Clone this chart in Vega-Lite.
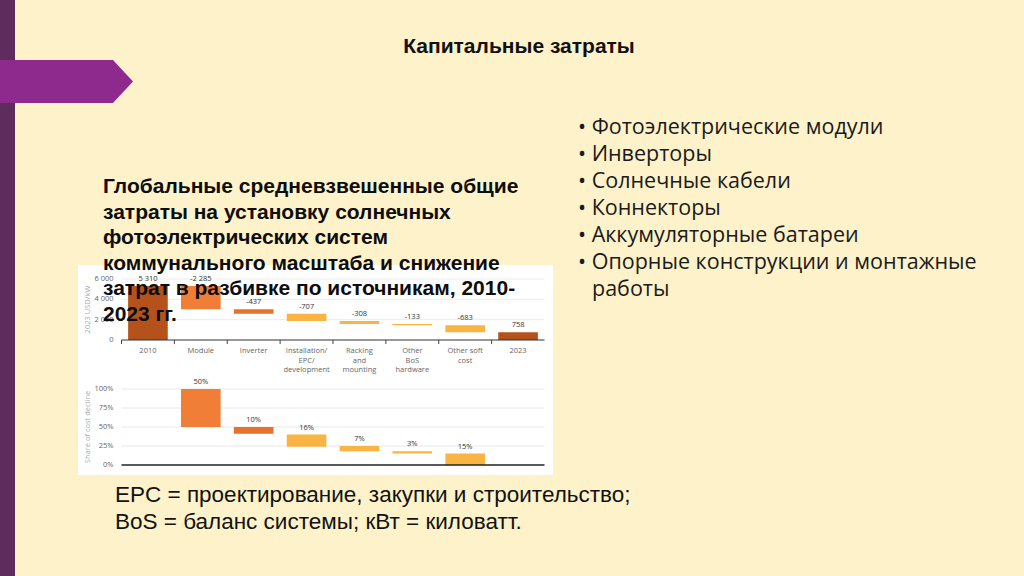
{
  "$schema": "https://vega.github.io/schema/vega-lite/v6.json",
  "width": 1024,
  "height": 576,
  "autosize": "none",
  "padding": 0,
  "background": "#FDF2CA",
  "config": {
    "view": {"stroke": null}
  },
  "datasets": {
    "cost": [
      {"cat": "2010", "start": 5310, "end": 0, "label": "5 310", "kind": "Total"},
      {"cat": "Module", "start": 5310, "end": 3025, "label": "-2 285", "kind": "Module"},
      {"cat": "Inverter", "start": 3025, "end": 2588, "label": "-437", "kind": "Inverter"},
      {"cat": "Installation/|EPC/|development", "start": 2588, "end": 1881, "label": "-707", "kind": "Other"},
      {"cat": "Racking|and|mounting", "start": 1881, "end": 1573, "label": "-308", "kind": "Other"},
      {"cat": "Other|BoS|hardware", "start": 1573, "end": 1440, "label": "-133", "kind": "Other"},
      {"cat": "Other soft|cost", "start": 1440, "end": 757, "label": "-683", "kind": "Other"},
      {"cat": "2023", "start": 758, "end": 0, "label": "758", "kind": "Total"}
    ],
    "share": [
      {"cat": "Module", "start": 1.0, "end": 0.5, "label": "50%", "kind": "Module"},
      {"cat": "Inverter", "start": 0.5, "end": 0.41, "label": "10%", "kind": "Inverter"},
      {"cat": "Installation/|EPC/|development", "start": 0.4, "end": 0.24, "label": "16%", "kind": "Other"},
      {"cat": "Racking|and|mounting", "start": 0.25, "end": 0.18, "label": "7%", "kind": "Other"},
      {"cat": "Other|BoS|hardware", "start": 0.18, "end": 0.15, "label": "3%", "kind": "Other"},
      {"cat": "Other soft|cost", "start": 0.15, "end": 0, "label": "15%", "kind": "Other"}
    ],
    "usdTicks": [
      {"usd": 0, "text": "0"},
      {"usd": 2000, "text": "2 000"},
      {"usd": 4000, "text": "4 000"},
      {"usd": 6000, "text": "6 000"}
    ],
    "shareTicks": [
      {"share": 0, "text": "0%"},
      {"share": 0.25, "text": "25%"},
      {"share": 0.5, "text": "50%"},
      {"share": 0.75, "text": "75%"},
      {"share": 1, "text": "100%"}
    ]
  },
  "resolve": {
    "scale": {"x": "independent", "y": "independent", "color": "independent"},
    "axis": {"x": "independent", "y": "independent"}
  },
  "layer": [
    {
      "data": {"values": [{"part": "sidebar"}]},
      "mark": {"type": "rect", "color": "#5F2C5E"},
      "encoding": {
        "x": {"field": "part", "type": "nominal", "axis": null, "scale": {"type": "band", "range": [0, 15], "paddingInner": 0, "paddingOuter": 0}},
        "y": {"field": "part", "type": "nominal", "axis": null, "scale": {"type": "band", "range": [0, 576], "paddingInner": 0, "paddingOuter": 0}}
      }
    },
    {
      "data": {"values": [{"part": "arrow"}]},
      "mark": {"type": "point", "shape": "M-1,-0.3233L0.699,-0.3233L1,0L0.699,0.3233L-1,0.3233Z", "size": 17689, "filled": true, "color": "#8E2A8E", "opacity": 1, "strokeWidth": 0},
      "encoding": {
        "x": {"field": "part", "type": "nominal", "axis": null, "scale": {"type": "band", "range": [0, 133], "paddingInner": 0, "paddingOuter": 0}},
        "y": {"field": "part", "type": "nominal", "axis": null, "scale": {"type": "band", "range": [60, 103], "paddingInner": 0, "paddingOuter": 0}}
      }
    },
    {
      "data": {"values": [{"part": "title", "text": "Капитальные затраты"}]},
      "mark": {"type": "text", "font": "Liberation Sans", "fontSize": 21, "fontWeight": "bold", "color": "#111111", "align": "center", "baseline": "middle"},
      "encoding": {
        "text": {"field": "text"},
        "x": {"field": "part", "type": "nominal", "axis": null, "scale": {"type": "point", "range": [519, 519]}},
        "y": {"field": "part", "type": "nominal", "axis": null, "scale": {"type": "point", "range": [47, 47]}}
      }
    },
    {
      "data": {"values": [
        {"line": 0, "col": "bullet", "text": "• Фотоэлектрические модули"},
        {"line": 1, "col": "bullet", "text": "• Инверторы"},
        {"line": 2, "col": "bullet", "text": "• Солнечные кабели"},
        {"line": 3, "col": "bullet", "text": "• Коннекторы"},
        {"line": 4, "col": "bullet", "text": "• Аккумуляторные батареи"},
        {"line": 5, "col": "bullet", "text": "• Опорные конструкции и монтажные"},
        {"line": 6, "col": "cont", "text": "работы"}
      ]},
      "mark": {"type": "text", "font": "Open Sans", "fontSize": 21.5, "color": "#1A1A1A", "align": "left", "baseline": "middle"},
      "encoding": {
        "text": {"field": "text"},
        "x": {"field": "col", "type": "nominal", "axis": null, "scale": {"type": "point", "domain": ["bullet", "cont"], "range": [578, 592], "padding": 0}},
        "y": {"field": "line", "type": "quantitative", "axis": null, "scale": {"domain": [0, 6], "range": [128, 290]}}
      }
    },
    {
      "data": {"values": [{"part": "chart panel"}]},
      "mark": {"type": "rect", "color": "#FFFFFF"},
      "encoding": {
        "x": {"field": "part", "type": "nominal", "axis": null, "scale": {"type": "band", "range": [78, 553], "paddingInner": 0, "paddingOuter": 0}},
        "y": {"field": "part", "type": "nominal", "axis": null, "scale": {"type": "band", "range": [265, 475], "paddingInner": 0, "paddingOuter": 0}}
      }
    },
    {
      "layer": [
        {
          "data": {"values": [{"usd": 2000}, {"usd": 4000}, {"usd": 6000}]},
          "mark": {"type": "rule", "color": "#ECECEC", "strokeWidth": 1},
          "encoding": {
            "y": {"field": "usd", "type": "quantitative", "axis": null, "scale": {"domain": [0, 6000], "range": [340, 279], "nice": false, "zero": false}},
            "x": {"datum": 0, "type": "quantitative", "axis": null, "scale": {"domain": [0, 1], "range": [121.5, 544.5], "nice": false}},
            "x2": {"datum": 1}
          }
        },
        {
          "data": {"name": "usdTicks"},
          "mark": {"type": "text", "font": "Open Sans", "fontSize": 7.5, "color": "#666666", "align": "right", "baseline": "middle", "dx": -8},
          "encoding": {
            "text": {"field": "text"},
            "y": {"field": "usd", "type": "quantitative", "axis": null, "scale": {"domain": [0, 6000], "range": [340, 279], "nice": false, "zero": false}},
            "x": {"datum": 0, "type": "quantitative", "axis": null, "scale": {"domain": [0, 1], "range": [121.5, 544.5], "nice": false}}
          }
        },
        {
          "data": {"values": [{"usd": 3000, "text": "2023 USD/kW"}]},
          "mark": {"type": "text", "font": "Open Sans", "fontSize": 7.5, "color": "#AAAAAA", "align": "center", "baseline": "middle", "angle": 270, "dy": -34},
          "encoding": {
            "text": {"field": "text"},
            "y": {"field": "usd", "type": "quantitative", "axis": null, "scale": {"domain": [0, 6000], "range": [340, 279], "nice": false, "zero": false}},
            "x": {"datum": 0, "type": "quantitative", "axis": null, "scale": {"domain": [0, 1], "range": [121.5, 544.5], "nice": false}}
          }
        }
      ]
    },
    {
      "layer": [
        {
          "data": {"values": [{"share": 0.25}, {"share": 0.5}, {"share": 0.75}, {"share": 1}]},
          "mark": {"type": "rule", "color": "#E8E8E8", "strokeWidth": 1},
          "encoding": {
            "y": {"field": "share", "type": "quantitative", "axis": null, "scale": {"domain": [0, 1], "range": [465, 389], "nice": false, "zero": false}},
            "x": {"datum": 0, "type": "quantitative", "axis": null, "scale": {"domain": [0, 1], "range": [121.5, 544.5], "nice": false}},
            "x2": {"datum": 1}
          }
        },
        {
          "data": {"name": "shareTicks"},
          "mark": {"type": "text", "font": "Open Sans", "fontSize": 7.5, "color": "#666666", "align": "right", "baseline": "middle", "dx": -8},
          "encoding": {
            "text": {"field": "text"},
            "y": {"field": "share", "type": "quantitative", "axis": null, "scale": {"domain": [0, 1], "range": [465, 389], "nice": false, "zero": false}},
            "x": {"datum": 0, "type": "quantitative", "axis": null, "scale": {"domain": [0, 1], "range": [121.5, 544.5], "nice": false}}
          }
        },
        {
          "data": {"values": [{"share": 0.5, "text": "Share of cost decline"}]},
          "mark": {"type": "text", "font": "Open Sans", "fontSize": 7.5, "color": "#AAAAAA", "align": "center", "baseline": "middle", "angle": 270, "dy": -34},
          "encoding": {
            "text": {"field": "text"},
            "y": {"field": "share", "type": "quantitative", "axis": null, "scale": {"domain": [0, 1], "range": [465, 389], "nice": false, "zero": false}},
            "x": {"datum": 0, "type": "quantitative", "axis": null, "scale": {"domain": [0, 1], "range": [121.5, 544.5], "nice": false}}
          }
        }
      ]
    },
    {
      "data": {"name": "cost"},
      "encoding": {
        "x": {
          "field": "cat", "type": "nominal", "axis": null,
          "scale": {"type": "band", "domain": ["2010", "Module", "Inverter", "Installation/|EPC/|development", "Racking|and|mounting", "Other|BoS|hardware", "Other soft|cost", "2023"], "range": [121.5, 544.5], "paddingInner": 0.25, "paddingOuter": 0.125}
        },
        "y": {
          "field": "start", "type": "quantitative", "axis": null,
          "scale": {"domain": [0, 6000], "range": [340, 279], "nice": false, "zero": false}
        }
      },
      "layer": [
        {
          "mark": {"type": "bar"},
          "encoding": {
            "y2": {"field": "end"},
            "color": {"field": "kind", "type": "nominal", "scale": {"domain": ["Total", "Module", "Inverter", "Other"], "range": ["#B5521B", "#F07E37", "#E8712E", "#FAB443"]}, "legend": null}
          }
        },
        {
          "mark": {"type": "text", "font": "Open Sans", "fontSize": 7.5, "color": "#333333", "baseline": "bottom", "dy": -3},
          "encoding": {"text": {"field": "label"}}
        },
        {
          "mark": {"type": "text", "font": "Open Sans", "fontSize": 7.5, "color": "#666666", "baseline": "top", "lineBreak": "|", "lineHeight": 9.5, "dy": 7},
          "encoding": {"text": {"field": "cat"}, "y": {"datum": 0}}
        },
        {
          "mark": {"type": "rule", "color": "#444444", "strokeWidth": 1},
          "encoding": {"x": {"field": "cat", "type": "nominal", "bandPosition": -0.1667}, "y": {"datum": 0}, "y2": {"datum": -400}}
        },
        {
          "data": {"values": [{"cat": "2023"}]},
          "mark": {"type": "rule", "color": "#444444", "strokeWidth": 1},
          "encoding": {"x": {"field": "cat", "type": "nominal", "bandPosition": 1.1667}, "y": {"datum": 0}, "y2": {"datum": -400}}
        }
      ]
    },
    {
      "data": {"name": "share"},
      "encoding": {
        "x": {
          "field": "cat", "type": "nominal", "axis": null,
          "scale": {"type": "band", "domain": ["2010", "Module", "Inverter", "Installation/|EPC/|development", "Racking|and|mounting", "Other|BoS|hardware", "Other soft|cost", "2023"], "range": [121.5, 544.5], "paddingInner": 0.25, "paddingOuter": 0.125}
        },
        "y": {
          "field": "start", "type": "quantitative", "axis": null,
          "scale": {"domain": [0, 1], "range": [465, 389], "nice": false, "zero": false}
        }
      },
      "layer": [
        {
          "mark": {"type": "bar"},
          "encoding": {
            "y2": {"field": "end"},
            "color": {"field": "kind", "type": "nominal", "scale": {"domain": ["Total", "Module", "Inverter", "Other"], "range": ["#B5521B", "#F07E37", "#E8712E", "#FAB443"]}, "legend": null}
          }
        },
        {
          "mark": {"type": "text", "font": "Open Sans", "fontSize": 7.5, "color": "#333333", "baseline": "bottom", "dy": -3},
          "encoding": {"text": {"field": "label"}}
        }
      ]
    },
    {
      "data": {"values": [{"usd": 0}]},
      "mark": {"type": "rule", "color": "#333333", "strokeWidth": 1.2},
      "encoding": {
        "y": {"field": "usd", "type": "quantitative", "axis": null, "scale": {"domain": [0, 6000], "range": [340, 279], "nice": false, "zero": false}},
        "x": {"datum": 0, "type": "quantitative", "axis": null, "scale": {"domain": [0, 1], "range": [121.5, 544.5], "nice": false}},
        "x2": {"datum": 1}
      }
    },
    {
      "data": {"values": [{"share": 0}]},
      "mark": {"type": "rule", "color": "#222222", "strokeWidth": 1.5},
      "encoding": {
        "y": {"field": "share", "type": "quantitative", "axis": null, "scale": {"domain": [0, 1], "range": [465, 389], "nice": false, "zero": false}},
        "x": {"datum": 0, "type": "quantitative", "axis": null, "scale": {"domain": [0, 1], "range": [121.5, 544.5], "nice": false}},
        "x2": {"datum": 1}
      }
    },
    {
      "data": {"values": [
        {"line": 0, "part": "caption", "text": "Глобальные средневзвешенные общие"},
        {"line": 1, "part": "caption", "text": "затраты на установку солнечных"},
        {"line": 2, "part": "caption", "text": "фотоэлектрических систем"},
        {"line": 3, "part": "caption", "text": "коммунального масштаба и снижение"},
        {"line": 4, "part": "caption", "text": "затрат в разбивке по источникам, 2010-"},
        {"line": 5, "part": "caption", "text": "2023 гг."}
      ]},
      "mark": {"type": "text", "font": "Liberation Sans", "fontSize": 21, "fontWeight": "bold", "color": "#0D0D0D", "align": "left", "baseline": "middle"},
      "encoding": {
        "text": {"field": "text"},
        "x": {"field": "part", "type": "nominal", "axis": null, "scale": {"type": "point", "range": [103, 103]}},
        "y": {"field": "line", "type": "quantitative", "axis": null, "scale": {"domain": [0, 5], "range": [187, 315]}}
      }
    },
    {
      "data": {"values": [
        {"line": 0, "part": "note", "text": "EPC = проектирование, закупки и строительство;"},
        {"line": 1, "part": "note", "text": "BoS = баланс системы; кВт = киловатт."}
      ]},
      "mark": {"type": "text", "font": "Liberation Sans", "fontSize": 22.5, "color": "#111111", "align": "left", "baseline": "middle"},
      "encoding": {
        "text": {"field": "text"},
        "x": {"field": "part", "type": "nominal", "axis": null, "scale": {"type": "point", "range": [115, 115]}},
        "y": {"field": "line", "type": "quantitative", "axis": null, "scale": {"domain": [0, 1], "range": [495, 522]}}
      }
    }
  ]
}
